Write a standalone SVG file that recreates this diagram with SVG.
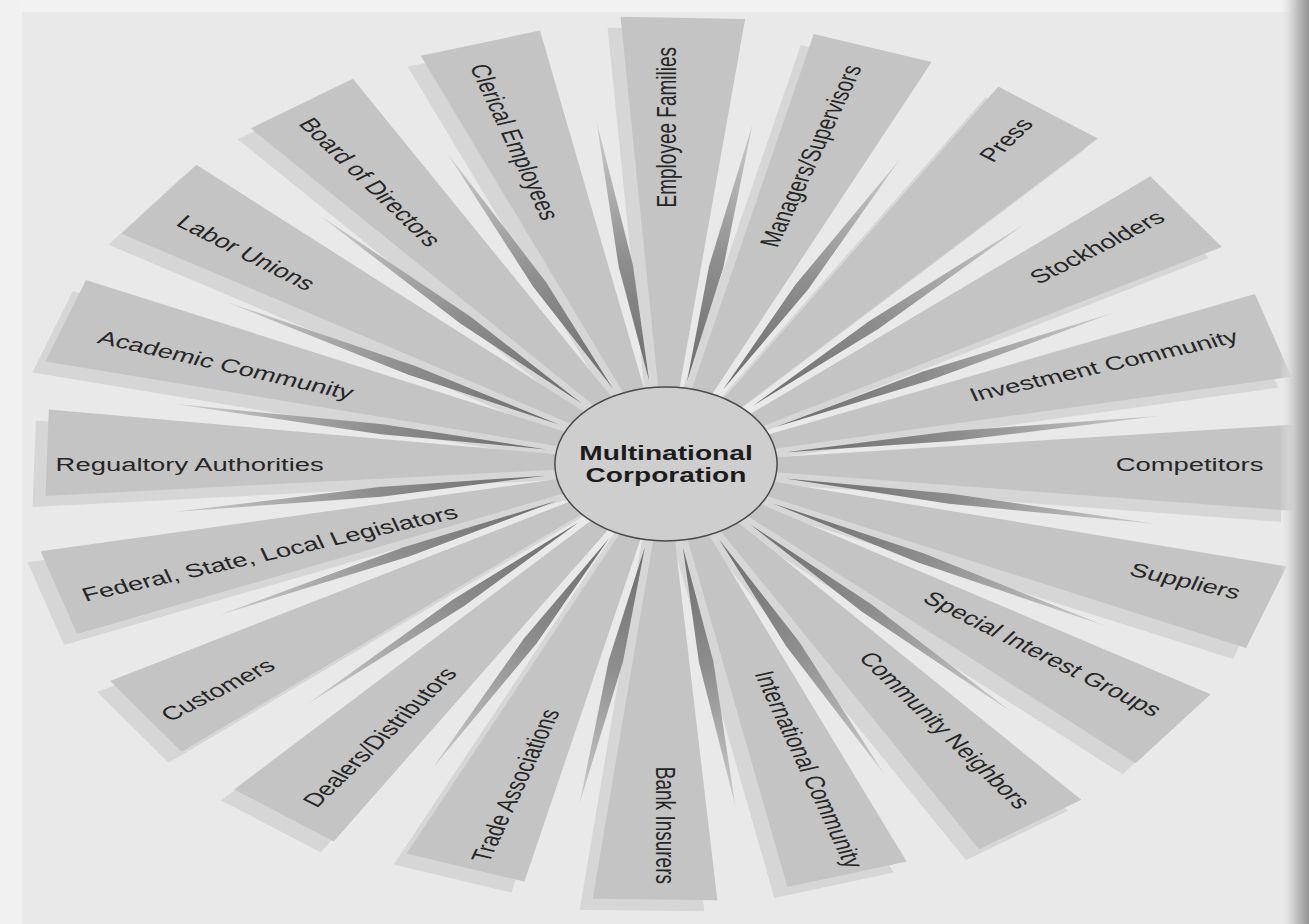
<svg xmlns="http://www.w3.org/2000/svg" width="1309" height="924" viewBox="0 0 1309 924">
<defs>
<style>
.w{fill:#c4c4c4}
.g{fill:#d6d6d6}
.sp{fill:url(#spg)}
.lbl{font-family:"Liberation Sans",Arial,sans-serif;font-size:19px;fill:#262626}
.L{text-anchor:start}
.R{text-anchor:end}
.ctr{font-family:"Liberation Sans",Arial,sans-serif;font-size:19.5px;font-weight:bold;fill:#1c1c1c;text-anchor:middle}
</style>
<polygon id="wedge" points="0,0 440,-43.2 440,43.2"/>
<polygon id="spindle" points="84,0 200,-5 345,0 200,5"/>
<radialGradient id="spg" gradientUnits="userSpaceOnUse" cx="0" cy="0" r="345">
<stop offset="0.24" stop-color="#6c6c6c"/>
<stop offset="0.6" stop-color="#8e8e8e"/>
<stop offset="1" stop-color="#cdcdcd"/>
</radialGradient>
<linearGradient id="spine" x1="0" y1="0" x2="1" y2="0">
<stop offset="0" stop-color="#e9e9e9" stop-opacity="0"/>
<stop offset="0.45" stop-color="#cfcfcf"/>
<stop offset="1" stop-color="#939393"/>
</linearGradient>
</defs>
<rect x="0" y="0" width="1309" height="924" fill="#e9e9e9"/>
<rect x="0" y="0" width="1309" height="12" fill="#f2f2f2"/>
<rect x="0" y="0" width="22" height="924" fill="#f1f1f1"/>
<g transform="translate(666,464) scale(1.443,1)">
<g id="ghosts" transform="translate(-9,11)">
<use href="#wedge" class="g" transform="rotate(0.5) scale(0.99,1)"/>
<use href="#wedge" class="g" transform="rotate(19)"/>
<use href="#wedge" class="g" transform="rotate(37)"/>
<use href="#wedge" class="g" transform="rotate(55)"/>
<use href="#wedge" class="g" transform="rotate(73) scale(0.975,1)"/>
<use href="#wedge" class="g" transform="rotate(91) scale(0.99,1)"/>
<use href="#wedge" class="g" transform="rotate(109) scale(0.97,1)"/>
<use href="#wedge" class="g" transform="rotate(127)"/>
<use href="#wedge" class="g" transform="rotate(145)"/>
<use href="#wedge" class="g" transform="rotate(163)"/>
<use href="#wedge" class="g" transform="rotate(181.5) scale(0.975,1)"/>
<use href="#wedge" class="g" transform="rotate(199)"/>
<use href="#wedge" class="g" transform="rotate(217)"/>
<use href="#wedge" class="g" transform="rotate(235)"/>
<use href="#wedge" class="g" transform="rotate(253)"/>
<use href="#wedge" class="g" transform="rotate(271.5) scale(1.014,1)"/>
<use href="#wedge" class="g" transform="rotate(289)"/>
<use href="#wedge" class="g" transform="rotate(307)"/>
<use href="#wedge" class="g" transform="rotate(325)"/>
<use href="#wedge" class="g" transform="rotate(343)"/>
</g>
<g id="n-competitors"><use href="#wedge" class="w" transform="rotate(0.5) scale(0.99,1)"/><text class="lbl R" transform="rotate(0)" x="414" y="0" dy="0.35em">Competitors</text></g>
<g id="n-suppliers"><use href="#wedge" class="w" transform="rotate(19)"/><text class="lbl R" transform="rotate(18)" x="418" y="0" dy="0.35em">Suppliers</text></g>
<g id="n-special"><use href="#wedge" class="w" transform="rotate(37)"/><text class="lbl R" transform="rotate(36)" x="422" y="0" dy="0.35em">Special Interest Groups</text></g>
<g id="n-neighbors"><use href="#wedge" class="w" transform="rotate(55)"/><text class="lbl R" transform="rotate(54)" x="423" y="0" dy="0.35em">Community Neighbors</text></g>
<g id="n-international"><use href="#wedge" class="w" transform="rotate(73) scale(0.975,1)"/><text class="lbl R" transform="rotate(72)" x="424" y="0" dy="0.35em">International Community</text></g>
<g id="n-bank"><use href="#wedge" class="w" transform="rotate(91) scale(0.99,1)"/><text class="lbl R" transform="rotate(90)" x="420" y="0" dy="0.35em">Bank Insurers</text></g>
<g id="n-trade"><use href="#wedge" class="w" transform="rotate(109) scale(0.97,1)"/><text class="lbl L" transform="rotate(-72)" x="-418" y="0" dy="0.35em">Trade Associations</text></g>
<g id="n-dealers"><use href="#wedge" class="w" transform="rotate(127)"/><text class="lbl L" transform="rotate(-54)" x="-421" y="0" dy="0.35em">Dealers/Distributors</text></g>
<g id="n-customers"><use href="#wedge" class="w" transform="rotate(145)"/><text class="lbl L" transform="rotate(-36)" x="-430" y="0" dy="0.35em">Customers</text></g>
<g id="n-legislators"><use href="#wedge" class="w" transform="rotate(163)"/><text class="lbl L" transform="rotate(-18)" x="-425" y="0" dy="0.35em">Federal, State, Local Legislators</text></g>
<g id="n-regulatory"><use href="#wedge" class="w" transform="rotate(181.5) scale(0.975,1)"/><text class="lbl L" transform="rotate(0)" x="-423" y="0" dy="0.35em">Regualtory Authorities</text></g>
<g id="n-academic"><use href="#wedge" class="w" transform="rotate(199)"/><text class="lbl L" transform="rotate(18)" x="-413" y="0" dy="0.35em">Academic Community</text></g>
<g id="n-labor"><use href="#wedge" class="w" transform="rotate(217)"/><text class="lbl L" transform="rotate(36)" x="-416" y="0" dy="0.35em">Labor Unions</text></g>
<g id="n-board"><use href="#wedge" class="w" transform="rotate(235)"/><text class="lbl L" transform="rotate(54)" x="-425" y="0" dy="0.35em">Board of Directors</text></g>
<g id="n-clerical"><use href="#wedge" class="w" transform="rotate(253)"/><text class="lbl L" transform="rotate(72)" x="-420" y="0" dy="0.35em">Clerical Employees</text></g>
<g id="n-families"><use href="#wedge" class="w" transform="rotate(271.5) scale(1.014,1)"/><text class="lbl R" transform="rotate(270)" x="417" y="0" dy="0.35em">Employee Families</text></g>
<g id="n-managers"><use href="#wedge" class="w" transform="rotate(289)"/><text class="lbl R" transform="rotate(288)" x="419" y="0" dy="0.35em">Managers/Supervisors</text></g>
<g id="n-press"><use href="#wedge" class="w" transform="rotate(307)"/><text class="lbl R" transform="rotate(306)" x="425" y="0" dy="0.35em">Press</text></g>
<g id="n-stockholders"><use href="#wedge" class="w" transform="rotate(325)"/><text class="lbl R" transform="rotate(324)" x="424" y="0" dy="0.35em">Stockholders</text></g>
<g id="n-investment"><use href="#wedge" class="w" transform="rotate(343)"/><text class="lbl R" transform="rotate(342)" x="416" y="0" dy="0.35em">Investment Community</text></g>
<g id="shading">
<use href="#spindle" class="sp" transform="rotate(10)"/>
<use href="#spindle" class="sp" transform="rotate(28)"/>
<use href="#spindle" class="sp" transform="rotate(46)"/>
<use href="#spindle" class="sp" transform="rotate(64)"/>
<use href="#spindle" class="sp" transform="rotate(82)"/>
<use href="#spindle" class="sp" transform="rotate(100)"/>
<use href="#spindle" class="sp" transform="rotate(118)"/>
<use href="#spindle" class="sp" transform="rotate(136)"/>
<use href="#spindle" class="sp" transform="rotate(154)"/>
<use href="#spindle" class="sp" transform="rotate(172)"/>
<use href="#spindle" class="sp" transform="rotate(190)"/>
<use href="#spindle" class="sp" transform="rotate(208)"/>
<use href="#spindle" class="sp" transform="rotate(226)"/>
<use href="#spindle" class="sp" transform="rotate(244)"/>
<use href="#spindle" class="sp" transform="rotate(262)"/>
<use href="#spindle" class="sp" transform="rotate(280)"/>
<use href="#spindle" class="sp" transform="rotate(298)"/>
<use href="#spindle" class="sp" transform="rotate(316)"/>
<use href="#spindle" class="sp" transform="rotate(334)"/>
<use href="#spindle" class="sp" transform="rotate(352)"/>
</g>
<g id="n-center">
<circle cx="0" cy="0" r="77" fill="#cecece" stroke="#4a4a4a" stroke-width="1.5" vector-effect="non-scaling-stroke"/>
<text class="ctr" x="0" y="-4.5">Multinational</text>
<text class="ctr" x="0" y="17.5">Corporation</text>
</g>
</g>
<rect x="1280" y="0" width="29" height="924" fill="url(#spine)"/>
</svg>
